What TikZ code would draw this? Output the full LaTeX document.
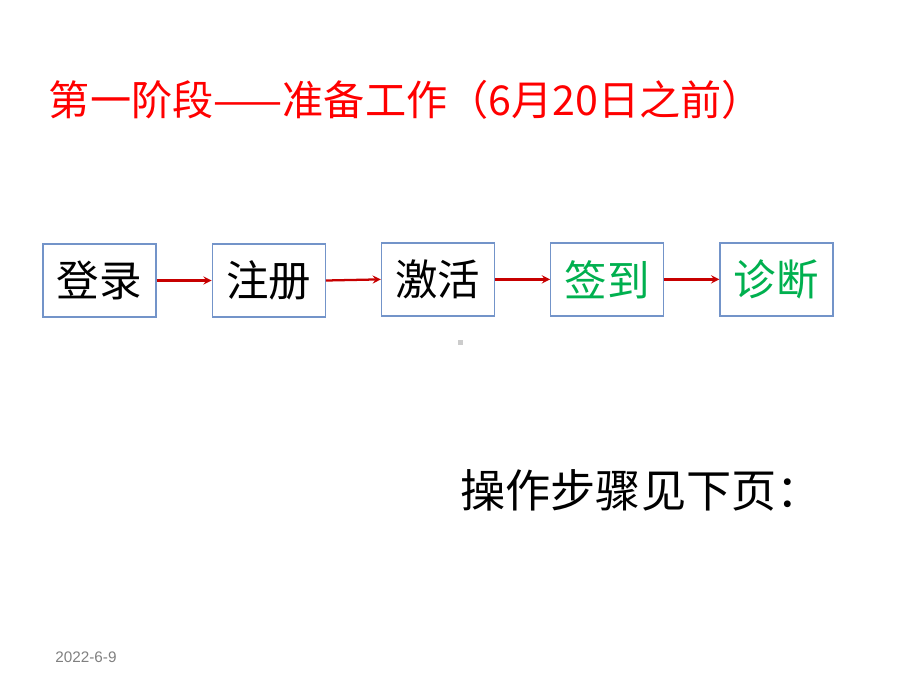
\documentclass[tikz,border=0pt]{standalone}
\usepackage{fontspec}
\usepackage{xcolor}
\usepackage{tikz}
\usetikzlibrary{positioning}
\newfontfamily\cjk{Noto Sans CJK SC}
\setmainfont{Liberation Sans}
\tikzset{c-rectangle2/.style={rectangle, minimum width=2.99cm, minimum height=1.93cm, inner sep=0pt, text centered, draw=c_border, line width=1pt, fill=white, font=\cjk\fontsize{32pt}{36pt}\selectfont},
arrow/.style={line width=1.7pt, draw=c_arrow, ->, >=stealth}}
\definecolor{c_border}{rgb}{0.45, 0.58, 0.79}
\definecolor{c_arrow}{rgb}{0.78, 0.0, 0.0}
\definecolor{c_title}{rgb}{1.0, 0.0, 0.0}
\definecolor{c_green}{rgb}{0.0, 0.69, 0.31}
\definecolor{c_date}{rgb}{0.5, 0.5, 0.5}
\begin{document}
\begin{tikzpicture}[x=0.02646cm, y=-0.02646cm, node distance = 4.478cm]
\useasboundingbox (0,0) rectangle (920,690);
\node (title) [text=c_title, font=\cjk\fontsize{31pt}{36pt}\selectfont] at (406,100) {第一阶段——准备工作（6月20日之前）};
\node (n0) [c-rectangle2] at (99.5,280.5) {登录};
\node (n1) [c-rectangle2, right of=n0] {注册};
\node (n2) [c-rectangle2, right of=n1, yshift=0.03cm] {激活};
\node (n3) [c-rectangle2, right of=n2, text=c_green] {签到};
\node (n4) [c-rectangle2, right of=n3, text=c_green] {诊断};
\draw [arrow] (n0) -- (n1);
\draw [arrow] (n1.east) -- (n2.west);
\draw [arrow] (n2) -- (n3);
\draw [arrow] (n3) -- (n4);
\fill [c_date!40] (457.5,339.5) rectangle (462.5,344.5);
\node (steps) [font=\cjk\fontsize{34pt}{38pt}\selectfont] at (641,490) {操作步骤见下页：};
\node (date) [text=c_date, font=\fontsize{11.5pt}{13pt}\selectfont] at (86,657) {2022-6-9};
\end{tikzpicture}
\end{document}
